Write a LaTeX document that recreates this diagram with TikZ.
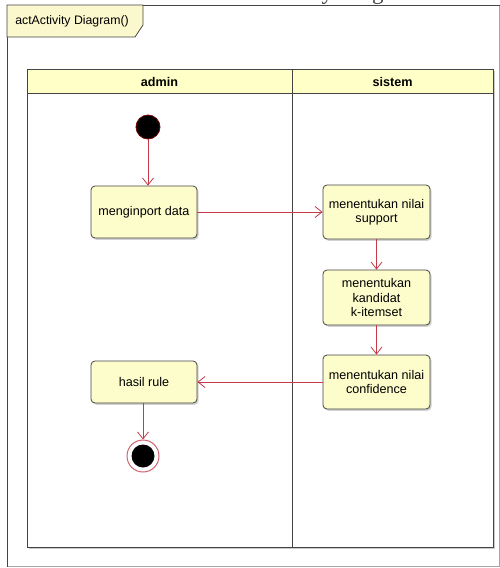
\documentclass[tikz,border=0pt]{standalone}
\usepackage{fontspec}
\setmainfont{Liberation Sans}
\newfontfamily\capfont{Liberation Serif}
\usetikzlibrary{arrows.meta,shadows}

\definecolor{actfill}{HTML}{FDFDCC}
\definecolor{lanefill}{HTML}{FFFFC8}
\definecolor{tabfill}{HTML}{FAF8CC}
\definecolor{flowred}{HTML}{C43A48}
\definecolor{edge}{HTML}{444444}

\tikzset{
  act/.style={draw=edge, fill=actfill, rounded corners=4pt, line width=0.8pt,
    drop shadow={shadow xshift=1.6pt, shadow yshift=-1.8pt, fill=black!35},
    font=\fontsize{12.6}{14.5}\selectfont, align=center, inner sep=0pt},
  flow/.style={draw=flowred, line width=0.9pt,
    -{Straight Barb[length=7pt,width=11pt,line width=0.8pt]}},
  lanehead/.style={font=\bfseries\fontsize{12.6}{14}\selectfont},
}

\begin{document}
\begin{tikzpicture}[x=1pt,y=-1pt]
\useasboundingbox (0,0) rectangle (500,568);

% page caption running off the upper edge
\begin{scope}
  \clip (0,0) rectangle (500,5);
  \node[anchor=base, inner sep=0pt, text=black!75, font=\capfont\fontsize{23}{23}\selectfont]
    (caption) at (290,-0.6) {Gambar 3 Activity Diagram};
\end{scope}

% outer frame
\draw[black!35, line width=0.8pt] (7,5) -- (499.5,5) -- (499.5,566.5) -- (7,566.5);
\draw[edge, line width=0.9pt] (7,566.5) -- (7,5) -- (499.5,5);

% frame tab
\draw[edge, fill=tabfill, line width=0.8pt]
  (7,5) -- (143,5) -- (143,25) -- (135,37) -- (7,37) -- cycle;
\node[font=\fontsize{12.3}{14}\selectfont, inner sep=0pt] (tab) at (72,21) {actActivity Diagram()};

% swimlanes
\fill[black!20] (28.5,70.5) rectangle (494.5,548.5);
\fill[white] (27,69) rectangle (493,547);
\fill[lanefill] (27,69) rectangle (493,93);
\draw[edge, line width=0.9pt] (27,69) rectangle (493,547);
\draw[edge, line width=0.9pt] (27,93) -- (493,93);
\draw[edge, line width=0.9pt] (292,69) -- (292,547);
\node[lanehead] (laneA) at (159.5,81.5) {admin};
\node[lanehead] (laneB) at (392.5,81.5) {sistem};

% initial and final nodes
\node[circle, fill=black, draw=red!45!black, line width=0.8pt, minimum size=24pt, inner sep=0pt] (start) at (148,127) {};
\node[circle, fill=white, draw=flowred!80, line width=1pt, minimum size=32pt, inner sep=0pt] (stop) at (143,456) {};
\fill[black] (stop.center) circle (11.5);

% actions
\node[act, minimum width=106pt, minimum height=52pt] (imp)  at (144,212) {menginport data};
\node[act, minimum width=107pt, minimum height=54pt] (sup)  at (376.5,212) {menentukan nilai\\support};
\node[act, minimum width=107pt, minimum height=55pt] (kand) at (376.5,297.5) {menentukan\\kandidat\\k-itemset};
\node[act, minimum width=107pt, minimum height=54pt] (conf) at (376.5,382) {menentukan nilai\\confidence};
\node[act, minimum width=106pt, minimum height=42pt] (hasil) at (144,382) {hasil rule};

% control flow
\draw[flow] (start) -- (start |- imp.north);
\draw[flow] (imp) -- (sup);
\draw[flow] (sup) -- (kand);
\draw[flow] (kand) -- (conf);
\draw[flow] (conf) -- (hasil);
\draw[flow] (hasil.south -| stop) -- (stop);
\end{tikzpicture}
\end{document}
